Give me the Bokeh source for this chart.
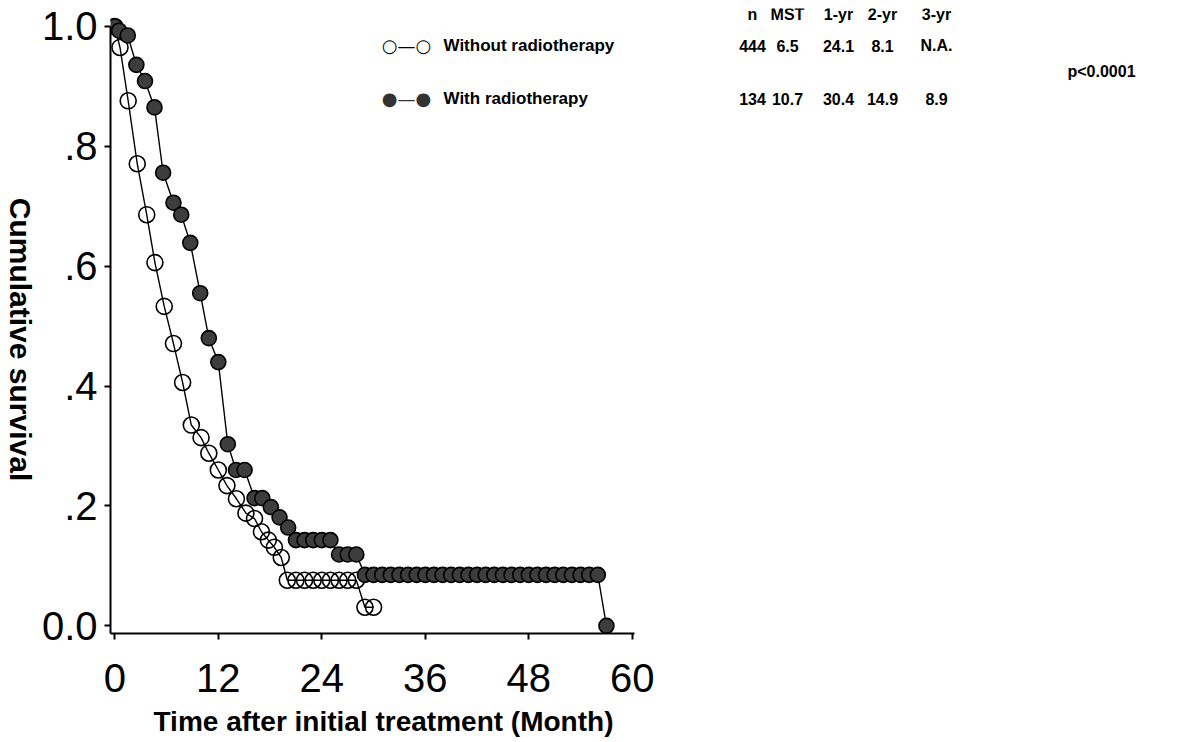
from bokeh.plotting import figure
from bokeh.layouts import row
from bokeh.models import ColumnDataSource, FixedTicker, Label, Range1d, Title
from bokeh.embed import file_html
from bokeh.resources import INLINE

# ---------------- data ----------------
without_t = [0, 0.6, 1.55, 2.6, 3.7, 4.65, 5.73, 6.8, 7.86, 8.87, 10.0, 10.9, 12.0, 13.0,
             14.1, 15.2, 16.2, 17.0, 17.8, 18.5, 19.3,
             20, 21, 22, 23, 24, 25, 26, 27, 28, 29, 30]
without_s = [1.0, 0.965, 0.876, 0.771, 0.686, 0.606, 0.533, 0.471, 0.406, 0.335, 0.314, 0.288,
             0.260, 0.234, 0.212, 0.188, 0.179, 0.157, 0.143, 0.131, 0.114,
             0.076, 0.076, 0.076, 0.076, 0.076, 0.076, 0.076, 0.076, 0.076, 0.031, 0.031]

with_t = [0, 0.5, 1.5, 2.5, 3.5, 4.6, 5.6, 6.8, 7.7, 8.75, 9.9, 10.9, 12.0, 13.1, 14.05, 15.05,
          16.2, 17.1, 18.1, 19.1, 20.1, 21, 22, 23, 24, 25, 26, 27, 28,
          29, 30, 31, 32, 33, 34, 35, 36, 37, 38, 39, 40, 41, 42, 43, 44, 45, 46, 47, 48,
          49, 50, 51, 52, 53, 54, 55, 56, 57]
with_s = [1.0, 0.993, 0.985, 0.936, 0.909, 0.865, 0.756, 0.706, 0.686, 0.639, 0.555, 0.480,
          0.440, 0.303, 0.260, 0.260, 0.213, 0.213, 0.198, 0.181, 0.164,
          0.143, 0.143, 0.143, 0.143, 0.143, 0.119, 0.119, 0.119,
          0.085, 0.085, 0.085, 0.085, 0.085, 0.085, 0.085, 0.085, 0.085, 0.085, 0.085, 0.085,
          0.085, 0.085, 0.085, 0.085, 0.085, 0.085, 0.085, 0.085, 0.085, 0.085, 0.085, 0.085,
          0.085, 0.085, 0.085, 0.085, 0.0]

x_ticks = [0, 12, 24, 36, 48, 60]
y_ticks = [0.0, 0.2, 0.4, 0.6, 0.8, 1.0]
y_tick_labels = ["0.0", ".2", ".4", ".6", ".8", "1.0"]

series_names = ["Without radiotherapy", "With radiotherapy"]
table_cols = ["n", "MST", "1-yr", "2-yr", "3-yr"]
without_row = ["444", "6.5", "24.1", "8.1", "N.A."]
with_row = ["134", "10.7", "30.4", "14.9", "8.9"]
p_value = "p<0.0001"

x_title = "Time after initial treatment (Month)"
y_title = "Cumulative survival"

# ---------------- layout constants ----------------
H = 733
LW = 36            # width of the strip holding the y title
FL = 110.0         # page x of main frame left
FB = 633.0         # page y of main frame bottom

# ---------------- y-title strip (its frame is aligned with the main frame) ----------------
ty = figure(width=LW, height=H, min_border=0, x_range=(0, 1), y_range=(0, 1),
            x_axis_type=None, y_axis_type=None, output_backend="svg", toolbar_location=None)
ty.grid.visible = False
ty.outline_line_color = None
ty.add_layout(Label(x=20, y=FB - 352, x_units="screen", y_units="screen", text=y_title,
                    text_font="Liberation Sans", text_font_size="30px", text_font_style="bold",
                    text_color="black", text_align="center", text_baseline="middle",
                    angle=-90, angle_units="deg"))

# ---------------- main figure ----------------
p = figure(frame_width=1057, frame_height=625,
           min_border_left=int(FL - LW), min_border_right=8, min_border_top=8, min_border_bottom=100,
           x_range=Range1d(-0.5, 122.05), y_range=Range1d(-0.0128, 1.03),
           output_backend="svg", toolbar_location=None)
p.grid.visible = False
p.outline_line_color = None

tick_font = "Liberation Sans"

p.xaxis.ticker = FixedTicker(ticks=x_ticks)
p.xaxis.bounds = (-0.5, 60.2)
p.yaxis.ticker = FixedTicker(ticks=y_ticks)
p.yaxis.bounds = (-0.0128, 1.0)
p.yaxis.major_label_overrides = {t: l for t, l in zip(y_ticks, y_tick_labels)}
for ax in (p.xaxis[0], p.yaxis[0]):
    ax.axis_line_width = 2
    ax.axis_line_color = "black"
    ax.major_tick_line_width = 2
    ax.major_tick_in = 0
    ax.major_tick_out = 6
    ax.minor_tick_line_color = None
    ax.major_label_text_font = tick_font
    ax.major_label_text_font_size = "40px"
    ax.major_label_text_color = "black"
p.xaxis.major_label_standoff = 24
p.yaxis.major_label_standoff = 7

p.add_layout(Title(text=x_title, align="left", offset=43, standoff=19,
                   text_font="Liberation Sans", text_font_size="28px",
                   text_font_style="bold", text_color="black"), "below")

src_without = ColumnDataSource(dict(t=without_t, s=without_s))
src_with = ColumnDataSource(dict(t=with_t, s=with_s))

p.line("t", "s", source=src_without, line_color="black", line_width=1.4)
p.scatter("t", "s", source=src_without, size=16, marker="circle",
          fill_alpha=0, line_color="black", line_width=1.6)
p.line("t", "s", source=src_with, line_color="black", line_width=1.4)
p.scatter("t", "s", source=src_with, size=15, marker="circle",
          fill_color="#3d3d3d", line_color="black", line_width=1.6)

# ---------------- texts inside the frame ----------------
def lab(text, px, py, size, align="left", bold=True, font="Liberation Sans", color="black"):
    p.add_layout(Label(x=px - FL, y=FB - py, x_units="screen", y_units="screen",
                       text=text, text_font=font, text_font_size=size,
                       text_font_style="bold" if bold else "normal",
                       text_align=align, text_baseline="middle", text_color=color))

col_x = [752, 787, 838, 882, 936]
for c, cx in zip(table_cols, col_x):
    lab(c, cx, 14, "16px", align="center")
for v, cx in zip(without_row, col_x):
    lab(v, cx, 45, "16px", align="center")
for v, cx in zip(with_row, col_x):
    lab(v, cx, 98, "16px", align="center")
lab(p_value, 1067, 71, "16px")

lab(series_names[0], 443, 45, "17px")
lab(series_names[1], 443, 98, "17px")
lab("\u25cb\u2014\u25cb", 406, 45, "18px", align="center", bold=False, font="DejaVu Sans")
lab("\u25cf\u2014\u25cf", 406, 98, "18px", align="center", bold=False, font="DejaVu Sans",
    color="#333333")

layout = row(ty, p)
open("out.html", "w").write(file_html(layout, INLINE))
